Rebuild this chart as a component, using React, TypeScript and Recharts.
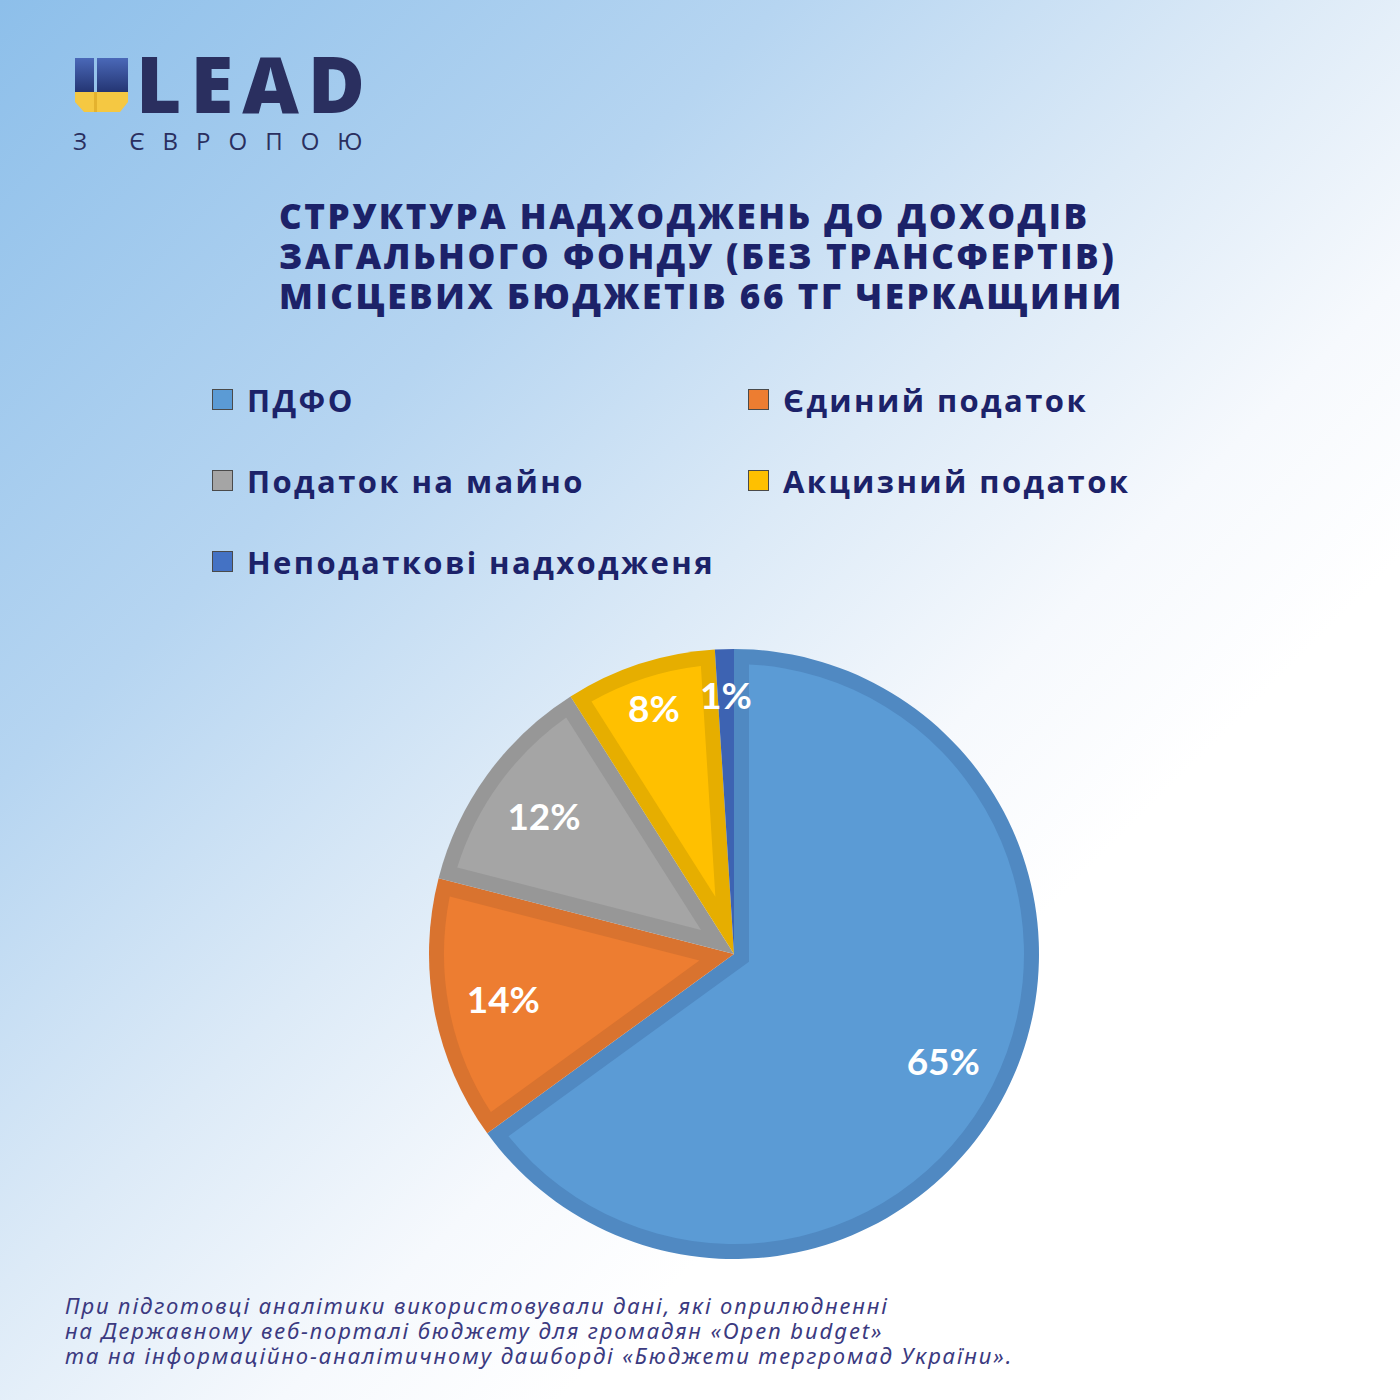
import { PieChart, Pie, Cell, Legend } from "recharts";

const categories = [
  "ПДФО",
  "Єдиний податок",
  "Податок на майно",
  "Акцизний податок",
  "Неподаткові надходженя",
];
const shares = [65, 14, 12, 8, 1];
const fillColors = ["#5b9bd5", "#ed7d31", "#a5a5a5", "#ffc000", "#4472c4"];
const edgeColors = ["#5089c2", "#d9732f", "#979797", "#e6ae00", "#3d63b2"];

const titleLines = [
  "СТРУКТУРА НАДХОДЖЕНЬ ДО ДОХОДІВ",
  "ЗАГАЛЬНОГО ФОНДУ (БЕЗ ТРАНСФЕРТІВ)",
  "МІСЦЕВИХ БЮДЖЕТІВ 66 ТГ ЧЕРКАЩИНИ",
];
const noteLines = [
  "При підготовці аналітики використовували дані, які оприлюдненні",
  "на Державному веб-порталі бюджету для громадян «Open budget»",
  "та на інформаційно-аналітичному дашборді «Бюджети тергромад України».",
];

const data = categories.map((name, i) => ({ name, value: shares[i] }));

const RAD = Math.PI / 180;
const pt = (cx: number, cy: number, r: number, a: number) => [
  cx + r * Math.cos(-a * RAD),
  cy + r * Math.sin(-a * RAD),
];

// inner lighter wedge + percent text, drawn on top of the darker sector
const renderLabel = (p: any) => {
  const { cx, cy, midAngle, outerRadius, percent, index } = p;
  const span = percent * 360;
  const half = span / 2;
  const d = 15;
  const r = outerRadius - d;
  const apex = d / Math.sin(half * RAD);
  let path = "";
  if (half > 3 && apex < r * 0.7) {
    const off = Math.asin(d / r) / RAD;
    const s = midAngle - half + off;
    const e = midAngle + half - off;
    const [ax, ay] = pt(cx, cy, apex, midAngle);
    const [ex, ey] = pt(cx, cy, r, e);
    const [sx, sy] = pt(cx, cy, r, s);
    const large = e - s > 180 ? 1 : 0;
    path = `M${ax},${ay} L${ex},${ey} A${r},${r} 0 ${large} 1 ${sx},${sy} Z`;
  }
  const k = percent < 0.1 ? 0.85 : 0.77;
  const [tx, ty] = pt(cx, cy, outerRadius * k, midAngle);
  return (
    <g key={`lbl-${index}`}>
      {path && <path d={path} fill={fillColors[index]} stroke="none" />}
      <text
        x={tx}
        y={ty}
        textAnchor="middle"
        dominantBaseline="central"
        fill="#ffffff"
        fontFamily="Lato, 'Open Sans', sans-serif"
        fontWeight="bold"
        fontSize={37}
      >
        {`${shares[index]}%`}
      </text>
    </g>
  );
};

const LegendGrid = () => (
  <div
    style={{
      display: "grid",
      gridTemplateColumns: "536px 420px",
      gridAutoRows: "81px",
      fontFamily: "'Open Sans', sans-serif",
      fontWeight: 700,
      fontSize: 31,
      letterSpacing: 2.4,
      color: "#1c2269",
    }}
  >
    {categories.map((c, i) => (
      <div key={c} style={{ display: "flex", alignItems: "center" }}>
        <span
          style={{
            width: 19,
            height: 19,
            background: fillColors[i],
            border: "1.5px solid #4a4a4a",
            marginRight: 14,
            flex: "none",
          }}
        />
        <span>{c}</span>
      </div>
    ))}
  </div>
);

export default function App() {
  return (
    <div
      style={{
        position: "absolute",
        left: 0,
        top: 0,
        width: 1400,
        height: 1400,
        overflow: "hidden",
        background:
          "linear-gradient(135deg, #8dbfea 0%, #b6d5f1 28%, #dceaf7 46%, #f6f9fd 60%, #ffffff 70%)",
      }}
    >
      {/* logo */}
      <svg
        width={60}
        height={60}
        style={{ position: "absolute", left: 72, top: 55 }}
      >
        <defs>
          <linearGradient id="ubar" x1="0" y1="0" x2="0" y2="1">
            <stop offset="0%" stopColor="#4a68b8" />
            <stop offset="100%" stopColor="#22326f" />
          </linearGradient>
        </defs>
        <rect x={3} y={3} width={19} height={36} fill="url(#ubar)" />
        <rect x={25} y={3} width={31} height={36} fill="url(#ubar)" />
        <path d="M3,37 L56,37 L56,47 L48,57 L12,57 L3,47 Z" fill="#f5c842" />
        <path d="M22,37 L25,37 L25,57 L22,57 Z" fill="#e4b22e" />
      </svg>
      <div
        style={{
          position: "absolute",
          left: 136,
          top: 44,
          fontFamily: "'Open Sans', sans-serif",
          fontWeight: 800,
          fontSize: 78,
          lineHeight: "78px",
          letterSpacing: 9,
          color: "#2a2f5f",
        }}
      >
        LEAD
      </div>
      <div
        style={{
          position: "absolute",
          left: 73,
          top: 124,
          fontFamily: "'Open Sans', sans-serif",
          fontSize: 24,
          letterSpacing: 18,
          color: "#2a2f5f",
        }}
      >
        З ЄВРОПОЮ
      </div>

      {/* title */}
      <div
        style={{
          position: "absolute",
          left: 279,
          top: 196,
          fontFamily: "'Open Sans', sans-serif",
          fontWeight: 800,
          fontSize: 35,
          letterSpacing: 2.6,
          lineHeight: "40px",
          color: "#1c2269",
          whiteSpace: "nowrap",
        }}
      >
        {titleLines.map((t) => (
          <div key={t}>{t}</div>
        ))}
      </div>

      <PieChart
        width={1400}
        height={1400}
        style={{ position: "absolute", left: 0, top: 0 }}
      >
        <Legend
          content={() => <LegendGrid />}
          wrapperStyle={{ position: "absolute", left: 212, top: 359, width: 1000 }}
        />
        <Pie
          data={data}
          dataKey="value"
          nameKey="name"
          cx={729}
          cy={949}
          outerRadius={305}
          startAngle={90}
          endAngle={-270}
          stroke="none"
          labelLine={false}
          label={renderLabel}
          isAnimationActive={false}
        >
          {data.map((d, i) => (
            <Cell key={d.name} fill={edgeColors[i]} />
          ))}
        </Pie>
      </PieChart>

      {/* footnote */}
      <div
        style={{
          position: "absolute",
          left: 65,
          top: 1293,
          fontFamily: "'Noto Sans', sans-serif",
          fontStyle: "italic",
          fontSize: 22,
          letterSpacing: 1.9,
          lineHeight: "25px",
          color: "#3b3a80",
          whiteSpace: "nowrap",
        }}
      >
        {noteLines.map((t) => (
          <div key={t}>{t}</div>
        ))}
      </div>
    </div>
  );
}
